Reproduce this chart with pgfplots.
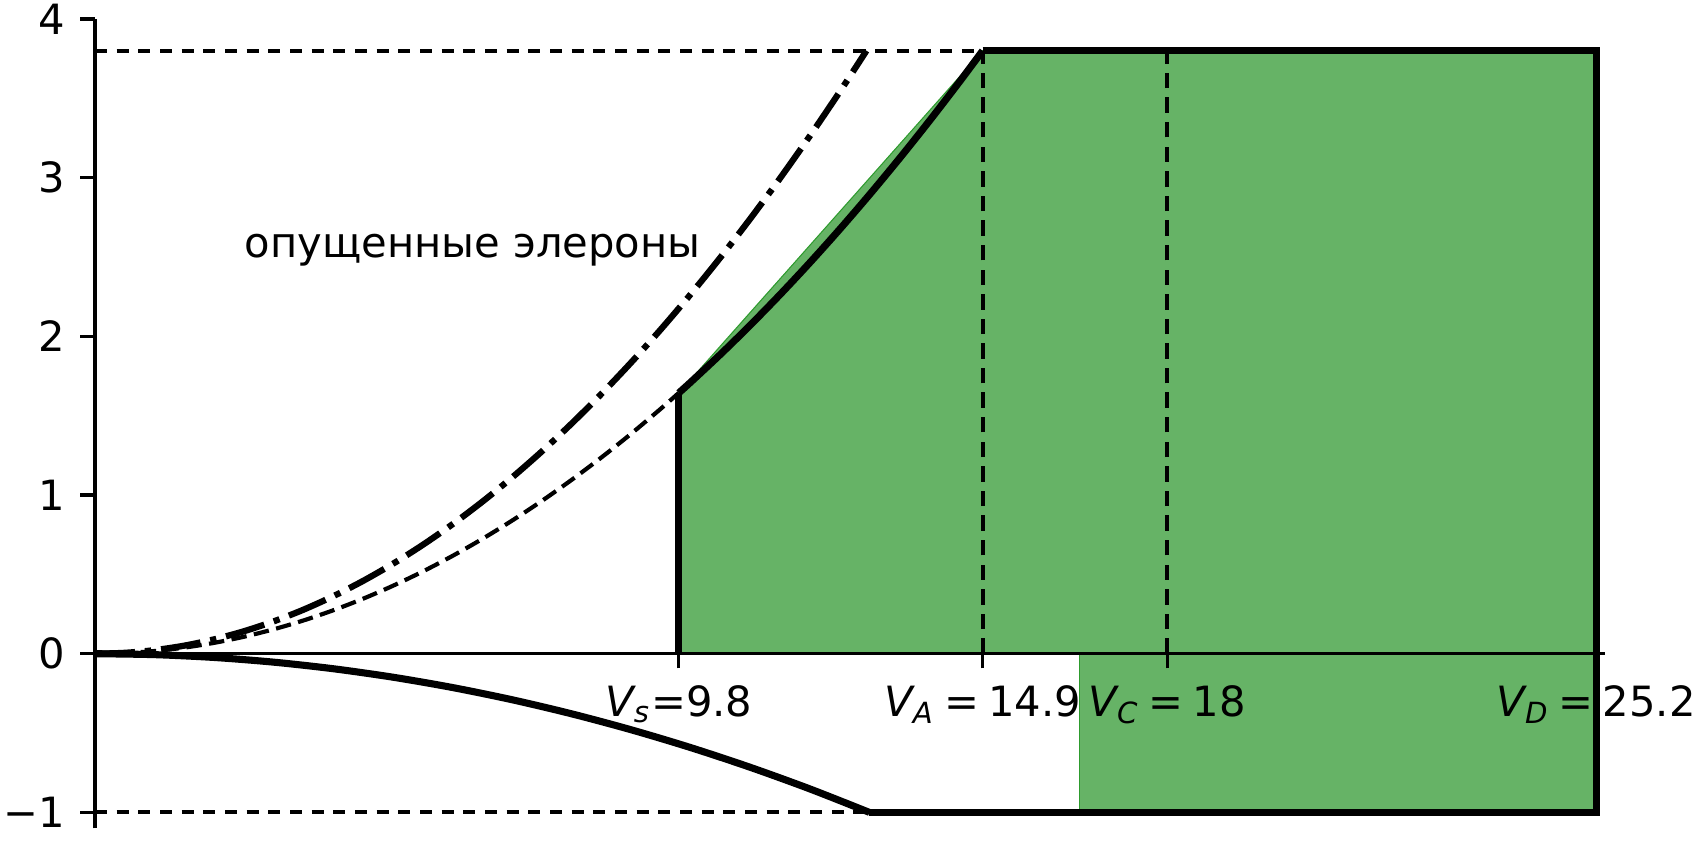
\documentclass[border=0pt]{standalone}
\usepackage{pgfplots}
\pgfplotsset{compat=1.18}
\usepackage{fontspec}
\setmainfont{DejaVu Sans}
\definecolor{fillgreen}{RGB}{102,179,102}
\definecolor{edgegreen}{RGB}{45,155,45}
\newcommand{\V}[1]{{\itshape V}\textsubscript{\itshape #1}}
\begin{document}
\begin{tikzpicture}
\begin{axis}[
  scale only axis, width=362.4pt, height=194.2pt,
  xmin=0, xmax=25.35, ymin=-1.1, ymax=4,
  axis x line=middle, axis y line=left,
  axis line style={-, line width=0.8pt, black},
  axis on top, clip=false,
  tick align=outside, major tick length=3.5pt,
  every tick/.style={black, line width=0.8pt},
  xtick={9.8,14.9,18,25.2},
  xticklabels={\V{s}=9.8, \V{A}\hspace{0.22em}=\hspace{0.22em}14.9, \V{C}\hspace{0.22em}=\hspace{0.22em}18, \V{D}\hspace{0.22em}=\hspace{0.22em}25.2},
  ytick={-1,0,1,2,3,4},
  yticklabels={−1,0,1,2,3,4},
  xticklabel style={anchor=base, inner sep=0pt, yshift=-11.6pt, font=\fontsize{10}{12}\selectfont},
  yticklabel style={anchor=east, inner sep=0pt, xshift=-3.6pt, font=\fontsize{10}{12}\selectfont},
]
\coordinate (SW) at (rel axis cs:0,0);
\coordinate (NE) at (rel axis cs:1,1);
% green admissible region
\addplot[fill=fillgreen, draw=edgegreen, line width=0.25pt] coordinates {(9.8,0) (9.8,1.64385) (14.9,3.8) (25.2,3.8) (25.2,0)} -- cycle;
\addplot[fill=fillgreen, draw=edgegreen, line width=0.25pt] coordinates {(16.53,0) (25.2,0) (25.2,-1) (16.53,-1)} -- cycle;
% reference dashed lines
\addplot[black, line width=1pt, dash pattern=on 2.9pt off 2.3pt] coordinates {(0,3.8) (14.9,3.8)};
\addplot[black, line width=1pt, dash pattern=on 2.9pt off 2.3pt] coordinates {(0,-1) (13,-1)};
\addplot[black, line width=1pt, dash pattern=on 3.7pt off 2.2pt] coordinates {(14.9,0) (14.9,3.8)};
\addplot[black, line width=1pt, dash pattern=on 3.7pt off 2.2pt] coordinates {(18,0) (18,3.8)};
% dashed parabola up to Vs
\addplot[black, line width=1pt, dash pattern=on 3.7pt off 1.8pt, smooth] coordinates {
(0,0) (0.5,0.00428) (1,0.01712) (1.5,0.03851) (2,0.06847) (2.5,0.10698) (3,0.15405) (3.5,0.20967) (4,0.27386) (4.5,0.34661) (5,0.42791) (5.5,0.51777) (6,0.61619) (6.5,0.72316) (7,0.8387) (7.5,0.96279) (8,1.09544) (8.5,1.23665) (9,1.38642) (9.5,1.54475) (9.8,1.64385)};
% dash-dot parabola (flaps down)
\addplot[black, line width=1.5pt, dash pattern=on 9.6pt off 2.4pt on 1.5pt off 2.4pt, smooth] coordinates {
(0,0) (0.5,0.00566) (1,0.02266) (1.5,0.05098) (2,0.09064) (2.5,0.14162) (3,0.20393) (3.5,0.27757) (4,0.36254) (4.5,0.45884) (5,0.56647) (5.5,0.68543) (6,0.81572) (6.5,0.95734) (7,1.11029) (7.5,1.27457) (8,1.45017) (8.5,1.63711) (9,1.83537) (9.5,2.04497) (10,2.26589) (10.5,2.49815) (11,2.74173) (11.5,2.99665) (12,3.26288) (12.5,3.54047) (12.95,3.8)};
% envelope, solid thick
\addplot[black, line width=1.7pt] coordinates {(9.8,0) (9.8,1.64385)};
\addplot[black, line width=1.7pt, smooth] coordinates {
(9.8,1.64385) (10,1.71163) (10.5,1.88707) (11,2.07107) (11.5,2.26363) (12,2.46475) (12.5,2.67442) (13,2.89265) (13.5,3.11945) (14,3.35479) (14.5,3.59870) (14.9,3.8)};
\addplot[black, line width=1.7pt] coordinates {(14.9,3.8) (25.2,3.8) (25.2,-1) (13,-1)};
\addplot[black, line width=1.7pt, smooth] coordinates {
(0,0) (1,-0.00592) (2,-0.02367) (3,-0.05325) (4,-0.09467) (5,-0.14793) (6,-0.21302) (7,-0.28994) (8,-0.3787) (9,-0.47929) (10,-0.59172) (11,-0.71598) (12,-0.85207) (13,-1)};
\node[anchor=base west, inner sep=0pt, font=\fontsize{10}{12}\selectfont] at (axis cs:2.5,2.5) {опущенные элероны};
\end{axis}
\pgfresetboundingbox
\path[use as bounding box] ([shift={(-22.8pt,-2.88pt)}]SW) rectangle ([shift={(21.8pt,4.56pt)}]NE);
\end{tikzpicture}
\end{document}
